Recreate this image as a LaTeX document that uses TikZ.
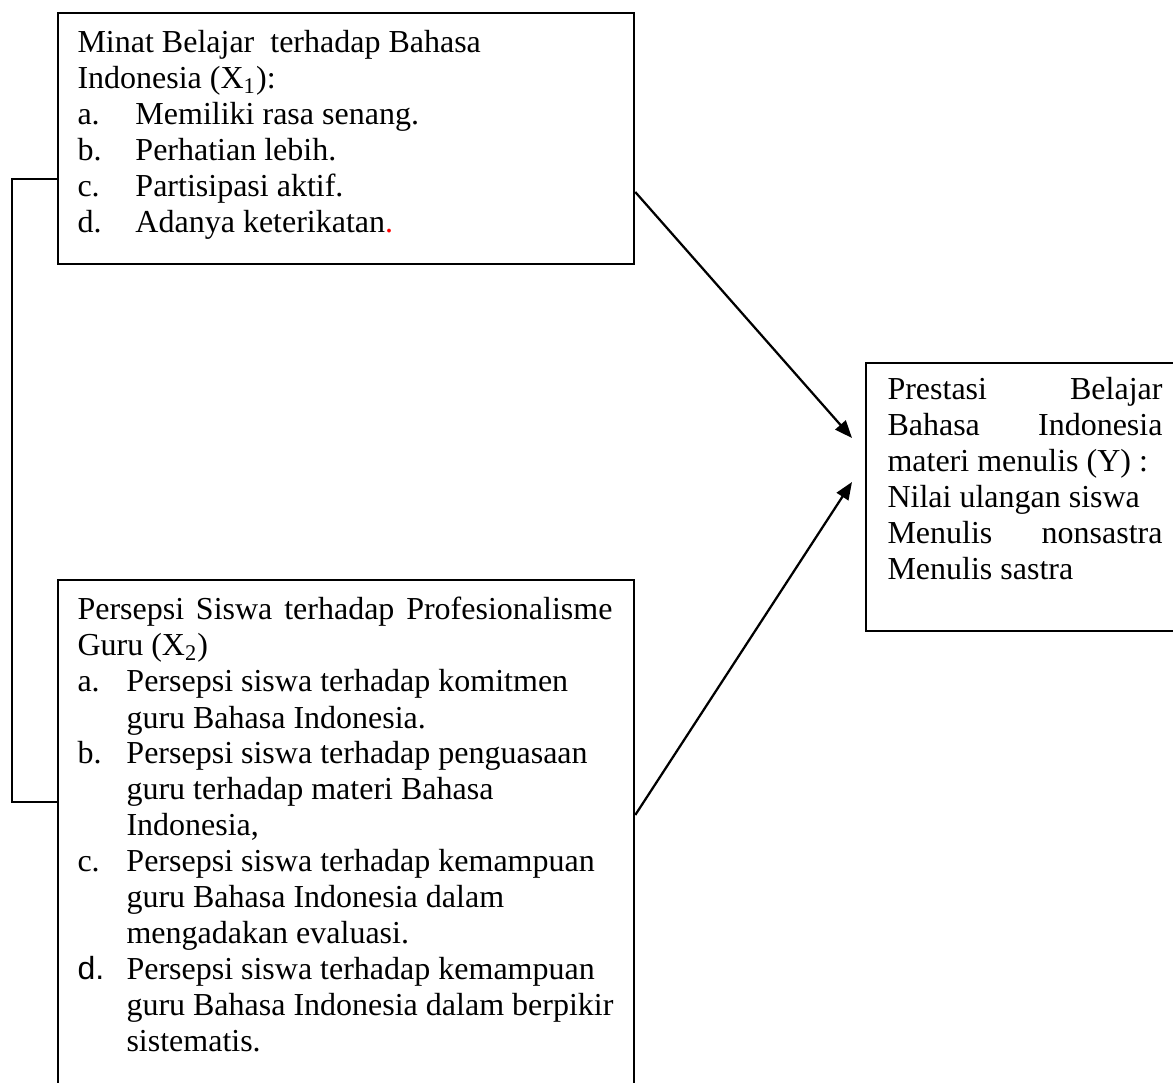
\documentclass[tikz,border=0pt]{standalone}
\usepackage{fontspec}
\setmainfont{Liberation Serif}
\setsansfont{Liberation Sans}
\usetikzlibrary{arrows.meta}
\tikzset{
  boxst/.style={draw, line width=0.9pt, rectangle, inner sep=0pt},
  txt/.style={inner sep=0pt, anchor=base west, font=\fontsize{12.8}{14.4}\selectfont},
  arr/.style={line width=0.9pt, -{Triangle[length=7pt,width=5.5pt]}},
  link/.style={line width=0.9pt}
}
\newcommand{\hdr}[1]{\multicolumn{2}{@{}l@{}}{#1}}
\begin{document}
\begin{tikzpicture}
\useasboundingbox (0,0) rectangle (469.2pt,-433.2pt);
\clip (0,0) rectangle (469.2pt,-433.2pt);

% boxes
\node[boxst, minimum width=230.4pt, minimum height=100.4pt, anchor=north west] (box1) at (22.8pt,-4.8pt) {};
\node[boxst, minimum width=230.4pt, minimum height=215pt, anchor=north west] (box2) at (22.8pt,-231.6pt) {};
\node[boxst, minimum width=136pt, minimum height=107.2pt, anchor=north west] (boxY) at (346pt,-144.8pt) {};

% texts
\node[txt] (t1) at (30.8pt,-21.2pt) {%
\begin{tabular}[t]{@{}p{23.2pt}@{}l@{}}
\hdr{Minat Belajar\ \ terhadap Bahasa}\\
\hdr{Indonesia (X\textsubscript{1}):}\\
a. & Memiliki rasa senang.\\
b. & Perhatian lebih.\\
c. & Partisipasi aktif.\\
d. & Adanya keterikatan\textcolor{red}{.}
\end{tabular}};

\node[txt] (t2) at (30.8pt,-248pt) {%
\begin{tabular}[t]{@{}p{19.6pt}@{}l@{}}
\hdr{\makebox[214pt][s]{Persepsi Siswa terhadap Profesionalisme}}\\
\hdr{Guru (X\textsubscript{2})}\\
a. & Persepsi siswa terhadap komitmen\\
   & guru Bahasa Indonesia.\\
b. & Persepsi siswa terhadap penguasaan\\
   & guru terhadap materi Bahasa\\
   & Indonesia,\\
c. & Persepsi siswa terhadap kemampuan\\
   & guru Bahasa Indonesia dalam\\
   & mengadakan evaluasi.\\
{\sffamily d.} & Persepsi siswa terhadap kemampuan\\
   & guru Bahasa Indonesia dalam berpikir\\
   & sistematis.
\end{tabular}};

\node[txt] (tY) at (354.8pt,-160pt) {%
\begin{tabular}[t]{@{}l@{}}
\makebox[110pt][s]{Prestasi Belajar}\\
\makebox[110pt][s]{Bahasa Indonesia}\\
materi menulis (Y) :\\
Nilai ulangan siswa\\
\makebox[110pt][s]{Menulis nonsastra}\\
Menulis sastra
\end{tabular}};

% connector points
\coordinate (b1l) at ([yshift=-66.8pt]box1.north west);
\coordinate (b2l) at ([yshift=-89.2pt]box2.north west);
\coordinate (s1) at ([yshift=-72pt]box1.north east);
\coordinate (s2) at ([yshift=-94.4pt]box2.north east);
\coordinate (tip1) at ([xshift=-5.2pt,yshift=-30.4pt]boxY.north west);
\coordinate (tip2) at ([xshift=-5.2pt,yshift=-48pt]boxY.north west);

\draw[link] (b1l) -- ++(-18pt,0) |- (b2l);
\draw[arr] (s1) -- (tip1);
\draw[arr] (s2) -- (tip2);
\end{tikzpicture}
\end{document}
